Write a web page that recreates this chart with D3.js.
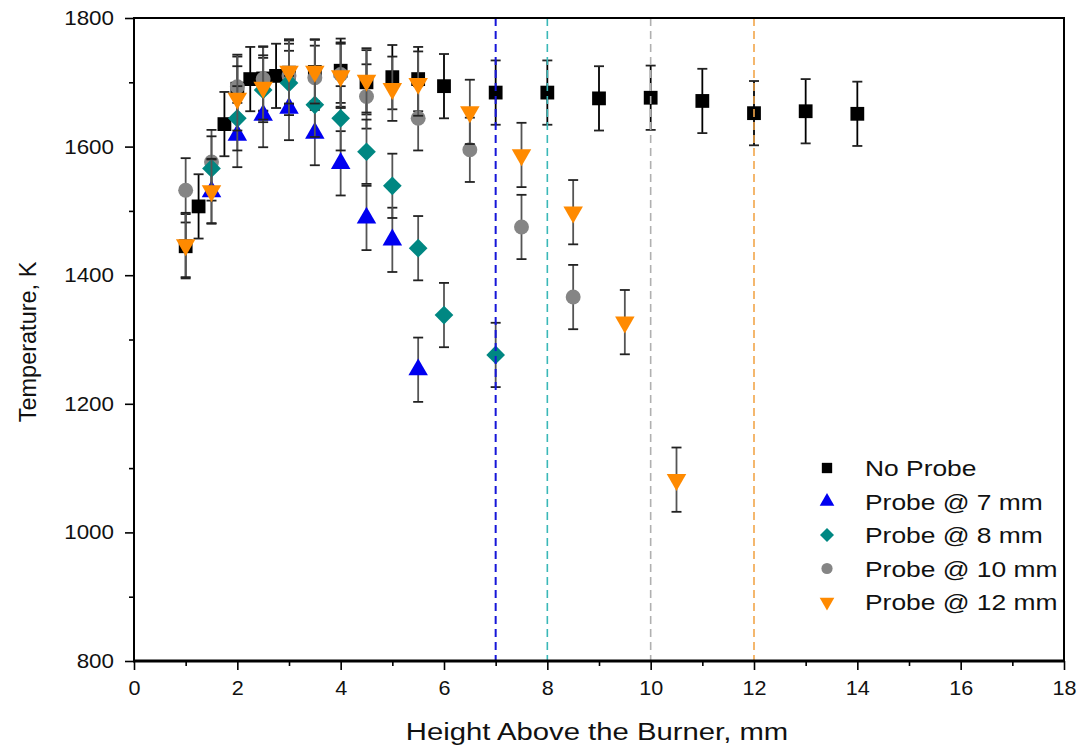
<!DOCTYPE html>
<html>
<head>
<meta charset="utf-8">
<script src="https://cdn.jsdelivr.net/npm/d3@7"></script>
<style>
    html, body { margin: 0; padding: 0; background: #fff; }
    svg { display: block; font-family: Arial, 'Liberation Sans', sans-serif; }
</style>
</head>
<body>
<div id="chart"></div>
<script>
(function () {
    'use strict';

    // ── data ────────────────────────────────────────────────────────────────
    const noProbeX = [1, 1.25, 1.75, 2, 2.25, 2.5, 2.75, 3, 3.5, 4, 4.5, 5, 5.5, 6, 7, 8, 9, 10, 11, 12, 13, 14];
    const noProbeT = [1445, 1507, 1635, 1690, 1705, 1706, 1710, 1715, 1716, 1718, 1700, 1708, 1705, 1694, 1684, 1684, 1675, 1676, 1671, 1652, 1655, 1651];

    const probe7X = [1.5, 2, 2.5, 3, 3.5, 4, 4.5, 5, 5.5];
    const probe7T = [1530, 1618, 1649, 1660, 1621, 1574, 1489, 1455, 1253];

    const probe8X = [1.5, 2, 2.5, 3, 3.5, 4, 4.5, 5, 5.5, 6, 7];
    const probe8T = [1566, 1644, 1688, 1699, 1665, 1644, 1592, 1539, 1442, 1338, 1276];

    const probe10X = [1, 1.5, 2, 2.5, 3, 3.5, 4, 4.5, 5.5, 6.5, 7.5, 8.5];
    const probe10T = [1532, 1576, 1693, 1705, 1710, 1707, 1712, 1678, 1644, 1595, 1475, 1366];

    const probe12X = [1, 1.5, 2, 2.5, 3, 3.5, 4, 4.5, 5, 5.5, 6.5, 7.5, 8.5, 9.5, 10.5];
    const probe12T = [1447, 1531, 1675, 1692, 1717, 1717, 1710, 1703, 1690, 1698, 1654, 1587, 1498, 1327, 1082];

    const errorK = 50;   // ± error bar, same for every point

    const probePositions = [7, 8, 10, 12];
    const xTicks = [0, 2, 4, 6, 8, 10, 12, 14, 16, 18];
    const yTicks = [800, 1000, 1200, 1400, 1600, 1800];

    // ── series (drawing order: bottom first) ───────────────────────────────
    const series = [
        { name: 'No Probe',      xs: noProbeX, ts: noProbeT, color: '#000000', shape: 'square',  bar: '#000' },
        { name: 'Probe @ 10 mm', xs: probe10X, ts: probe10T, color: '#858585', shape: 'circle',  bar: '#555' },
        { name: 'Probe @ 7 mm',  xs: probe7X,  ts: probe7T,  color: '#0000f0', shape: 'up',      bar: '#555' },
        { name: 'Probe @ 8 mm',  xs: probe8X,  ts: probe8T,  color: '#008782', shape: 'diamond', bar: '#555' },
        { name: 'Probe @ 12 mm', xs: probe12X, ts: probe12T, color: '#ff8a00', shape: 'down',    bar: '#555' }
    ];
    const legendOrder = ['No Probe', 'Probe @ 7 mm', 'Probe @ 8 mm', 'Probe @ 10 mm', 'Probe @ 12 mm'];
    const lineColors = { 7: '#1616d8', 8: '#3ab8b8', 10: '#b0b0b0', 12: '#f2a64a' };

    const width = 1081, height = 745;
    const left = 134, right = 1064, top = 18, bottom = 661;

    const x = d3.scaleLinear().domain([0, 18]).range([left, right]);
    const y = d3.scaleLinear().domain([800, 1800]).range([bottom, top]);

    const svg = d3.select('#chart').append('svg')
        .attr('width', width).attr('height', height);

    // horizontally stretched text, like the reference image
    const stretch = 1.2;
    function label(parent, tx, ty, str, size, anchor, rotate, sx) {
        return parent.append('text')
            .attr('transform', `translate(${tx},${ty})` + (rotate ? ` rotate(${rotate})` : ` scale(${sx || stretch},1)`))
            .attr('text-anchor', anchor || 'middle')
            .style('font-size', size + 'px')
            .style('fill', '#111')
            .text(str);
    }

    // ── markers ────────────────────────────────────────────────────────────
    function marker(sel, shape, k) {
        const s = k || 1;
        if (shape === 'square') {
            sel.attr('d', d3.symbol(d3.symbolSquare, 190 * s * s)());
        } else if (shape === 'circle') {
            sel.attr('d', d3.symbol(d3.symbolCircle, 175 * s * s)());
        } else if (shape === 'up') {
            sel.attr('d', d3.symbol(d3.symbolTriangle, 165 * s * s)());
        } else if (shape === 'down') {
            sel.attr('d', d3.symbol(d3.symbolTriangle, 165 * s * s)())
                .attr('data-rot', 180);
        } else if (shape === 'diamond') {
            sel.attr('d', d3.symbol(d3.symbolSquare, 175 * s * s)())
                .attr('data-rot', 45);
        }
        return sel;
    }

    // ── data layers ─────────────────────────────────────────────────────────
    const plot = svg.append('g');
    series.forEach(sr => {
        const pts = sr.xs.map((v, i) => ({ x: v, t: sr.ts[i] }));
        const g = plot.append('g');

        const eb = g.selectAll('g.eb').data(pts).enter().append('g');
        eb.append('line')
            .attr('x1', d => x(d.x)).attr('x2', d => x(d.x))
            .attr('y1', d => y(d.t - errorK)).attr('y2', d => y(d.t + errorK))
            .attr('stroke', sr.bar).attr('stroke-width', 1.8);
        [-1, 1].forEach(sign => {
            eb.append('line')
                .attr('x1', d => x(d.x) - 5).attr('x2', d => x(d.x) + 5)
                .attr('y1', d => y(d.t + sign * errorK)).attr('y2', d => y(d.t + sign * errorK))
                .attr('stroke', '#222').attr('stroke-width', 1.8);
        });

        g.selectAll('path').data(pts).enter().append('path')
            .call(marker, sr.shape)
            .attr('fill', sr.color)
            .attr('transform', function (d) {
                const r = this.getAttribute('data-rot') || 0;
                return `translate(${x(d.x)},${y(d.t)}) rotate(${r})`;
            });
    });

    // ── probe position lines ───────────────────────────────────────────────
    svg.append('g').selectAll('line').data(probePositions).enter().append('line')
        .attr('x1', d => x(d)).attr('x2', d => x(d))
        .attr('y1', top).attr('y2', bottom)
        .attr('stroke', d => lineColors[d])
        .attr('stroke-width', d => d === 7 ? 2 : 1.6)
        .attr('stroke-dasharray', '8,5');

    // ── axes ────────────────────────────────────────────────────────────────
    const axes = svg.append('g');
    axes.append('g').attr('transform', `translate(0,${bottom})`)
        .call(d3.axisBottom(x).tickValues(d3.range(1, 18, 2)).tickSize(5).tickFormat(''));
    axes.append('g').attr('transform', `translate(${left},0)`)
        .call(d3.axisLeft(y).tickValues(d3.range(900, 1800, 200)).tickSize(5).tickFormat(''));

    const xAxis = axes.append('g').attr('transform', `translate(0,${bottom})`)
        .call(d3.axisBottom(x).tickValues(xTicks).tickSize(9).tickPadding(11).tickFormat(d3.format('d')));
    const yAxis = axes.append('g').attr('transform', `translate(${left},0)`)
        .call(d3.axisLeft(y).tickValues(yTicks).tickSize(9).tickPadding(11).tickFormat(d3.format('d')));

    axes.selectAll('.domain').remove();
    axes.selectAll('.tick line').attr('stroke', '#000').attr('stroke-width', 1.6);
    [xAxis, yAxis].forEach(a => a.selectAll('text')
        .style('font-size', '20px').style('fill', '#111')
        .style('font-family', 'Arial, "Liberation Sans", sans-serif'));
    xAxis.selectAll('.tick text').attr('transform', 'scale(1.08,1)');
    yAxis.selectAll('.tick text').attr('transform', 'translate(-20,0) scale(1.12,1) translate(20,0)');

    // frame
    svg.append('rect')
        .attr('x', left).attr('y', top)
        .attr('width', right - left).attr('height', bottom - top)
        .attr('fill', 'none').attr('stroke', '#000').attr('stroke-width', 2);
    svg.append('line')
        .attr('x1', left - 1).attr('x2', right + 1)
        .attr('y1', bottom).attr('y2', bottom)
        .attr('stroke', '#000').attr('stroke-width', 3);

    // axis titles
    label(svg, 597, 740, 'Height Above the Burner, mm', 24, 'middle', null, 1.22);
    label(svg, 36, 342, 'Temperature, K', 23.5, 'middle', -90);

    // ── legend ──────────────────────────────────────────────────────────────
    const legend = svg.append('g');
    legendOrder.forEach((name, i) => {
        const sr = series.find(s => s.name === name);
        const ly = 468 + i * 33.5;
        legend.append('path')
            .call(marker, sr.shape, 0.75)
            .attr('fill', sr.color)
            .attr('transform', function () {
                const r = this.getAttribute('data-rot') || 0;
                return `translate(827,${ly}) rotate(${r})`;
            });
        label(legend, 865, ly + 8, name, 22, 'start');
    });
})();
</script>
</body>
</html>
